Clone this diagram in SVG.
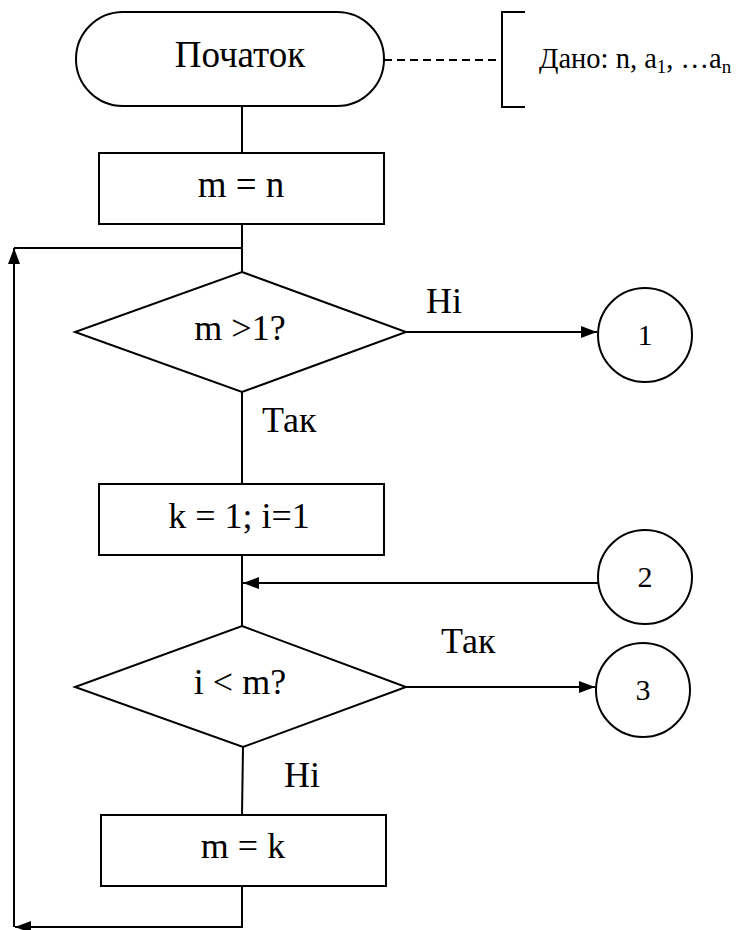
<svg xmlns="http://www.w3.org/2000/svg" width="736" height="930" viewBox="0 0 736 930">
<style>
.s{fill:#fff;stroke:#000;stroke-width:2}
.l{fill:none;stroke:#000;stroke-width:2}
</style>
<defs>
<marker id="ah" viewBox="0 0 16 12" refX="16" refY="6" markerWidth="16" markerHeight="12" markerUnits="userSpaceOnUse" orient="auto">
<path d="M0,0 L16,6 L0,12 Z" fill="#000"/>
</marker>
</defs>
<rect width="736" height="930" fill="#fff"/>
<g id="connectors">
<line class="l" x1="242" y1="106" x2="242" y2="153"/>
<line class="l" x1="384" y1="60" x2="501" y2="60" stroke-dasharray="8,5"/>
<line class="l" x1="242" y1="224" x2="242" y2="272"/>
<line class="l" x1="242" y1="248" x2="14" y2="248"/>
<line class="l" x1="406" y1="332" x2="597" y2="332" marker-end="url(#ah)"/>
<line class="l" x1="242" y1="392" x2="242" y2="484"/>
<line class="l" x1="242" y1="555" x2="242" y2="626"/>
<line class="l" x1="598" y1="583" x2="243" y2="583" marker-end="url(#ah)"/>
<line class="l" x1="406" y1="687" x2="595" y2="687" marker-end="url(#ah)"/>
<line class="l" x1="243" y1="747" x2="242" y2="815"/>
<polyline class="l" points="242,886 242,927 15,927" marker-end="url(#ah)"/>
<line class="l" x1="14" y1="927" x2="14" y2="248" marker-end="url(#ah)"/>
<text x="426" y="313" font-family="Liberation Serif, serif" font-size="36">Ні</text>
<text x="262" y="432" font-family="Liberation Serif, serif" font-size="36">Так</text>
<text x="441" y="653" font-family="Liberation Serif, serif" font-size="36">Так</text>
<text x="284" y="787" font-family="Liberation Serif, serif" font-size="36">Ні</text>
</g>
<g id="start">
<rect class="s" x="76" y="12" width="308" height="94" rx="47" ry="47"/>
<text x="240" y="67" font-family="Liberation Serif, serif" font-size="37" text-anchor="middle">Початок</text>
</g>
<g id="given">
<polyline class="l" points="525,12 502,12 502,107 525,107"/>
<text font-family="Liberation Serif, serif" font-size="28.5" x="539" y="68">Дано: n, a<tspan font-size="19" dy="5">1</tspan><tspan dy="-5">, …a</tspan><tspan font-size="19" dy="5">n</tspan></text>
</g>
<g id="m_eq_n">
<rect class="s" x="99" y="153" width="285" height="71"/>
<text x="241" y="197" font-family="Liberation Serif, serif" font-size="37" text-anchor="middle">m = n</text>
</g>
<g id="cond1">
<polygon class="s" points="242,272 406,332 242,392 75,332"/>
<text x="240" y="340" font-family="Liberation Serif, serif" font-size="36" text-anchor="middle">m &gt;1?</text>
</g>
<g id="c1">
<circle class="s" cx="645" cy="335" r="47"/>
<text x="645" y="345" font-family="Liberation Serif, serif" font-size="30" text-anchor="middle">1</text>
</g>
<g id="init">
<rect class="s" x="99" y="484" width="285" height="71"/>
<text x="239" y="528" font-family="Liberation Serif, serif" font-size="36" text-anchor="middle">k = 1; i=1</text>
</g>
<g id="c2">
<circle class="s" cx="645" cy="577" r="47"/>
<text x="645" y="587" font-family="Liberation Serif, serif" font-size="30" text-anchor="middle">2</text>
</g>
<g id="cond2">
<polygon class="s" points="242,626 406,687 243,747 75,687"/>
<text x="240" y="694" font-family="Liberation Serif, serif" font-size="36" text-anchor="middle">i &lt; m?</text>
</g>
<g id="c3">
<circle class="s" cx="643" cy="690" r="47"/>
<text x="643" y="700" font-family="Liberation Serif, serif" font-size="30" text-anchor="middle">3</text>
</g>
<g id="m_eq_k">
<rect class="s" x="101" y="815" width="285" height="71"/>
<text x="243" y="858" font-family="Liberation Serif, serif" font-size="36" text-anchor="middle">m = k</text>
</g>
</svg>
